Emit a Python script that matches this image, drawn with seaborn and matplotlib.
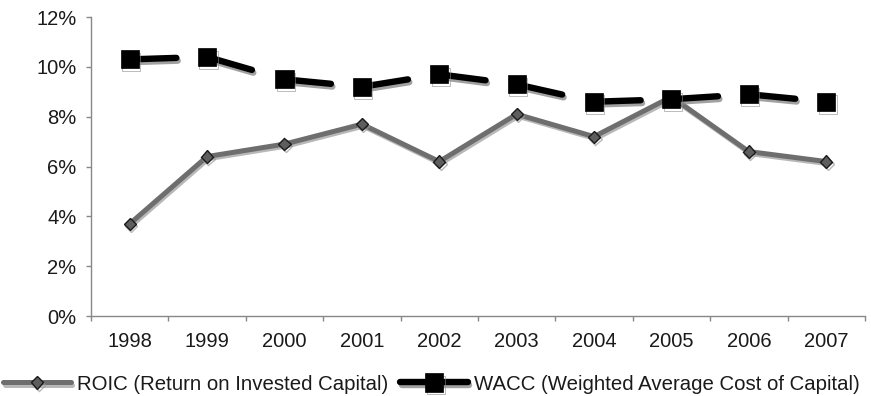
import matplotlib
matplotlib.use("Agg")
import matplotlib.pyplot as plt
import matplotlib.patheffects as pe
from matplotlib.lines import Line2D
from matplotlib.ticker import FuncFormatter, FixedLocator
import seaborn as sns
import pandas as pd

years = [1998, 1999, 2000, 2001, 2002, 2003, 2004, 2005, 2006, 2007]
roic = [3.7, 6.4, 6.9, 7.7, 6.2, 8.1, 7.2, 8.8, 6.6, 6.2]
wacc = [10.3, 10.4, 9.5, 9.2, 9.7, 9.3, 8.6, 8.7, 8.9, 8.6]
roic_label = "ROIC (Return on Invested Capital)"
wacc_label = "WACC (Weighted Average Cost of Capital)"
y_ticks = [0, 2, 4, 6, 8, 10, 12]

sns.set_theme(style="white")
plt.rcParams["font.family"] = ["Liberation Sans", "DejaVu Sans"]
plt.rcParams["text.color"] = "#1a1a1a"

df = pd.DataFrame({"year": years, "roic": roic, "wacc": wacc})

fig = plt.figure(figsize=(8.71, 3.96), dpi=100)
ax = fig.add_axes([0.1045, 0.202, 0.8885, 0.755])

shadow_roic = [pe.SimpleLineShadow(offset=(1, -1.5), shadow_color="#9a9a9a", alpha=0.7), pe.Normal()]
shadow_wacc = [pe.SimpleLineShadow(offset=(1, -2), shadow_color="#8a8a8a", alpha=0.8), pe.Normal()]

roic_style = dict(color="#6e6e6e", lw=3.6, marker="D", markersize=6.2,
                  markerfacecolor="#5e5e5e", markeredgecolor="#1a1a1a",
                  markeredgewidth=1.0)
wacc_line_style = dict(color="black", lw=4.6, dashes=(7.3, 5.1), dash_capstyle="round")
wacc_marker_style = dict(marker="s", markersize=13, markerfacecolor="black",
                         markeredgecolor="black", markeredgewidth=0.5)

# ROIC: solid grey line with diamond markers
sns.lineplot(data=df, x="year", y="roic", ax=ax, zorder=3,
             path_effects=shadow_roic, **roic_style)

# WACC: each year-to-year segment starts its own long dash at the marker
for i in range(len(df) - 1):
    sns.lineplot(data=df.iloc[i:i + 2], x="year", y="wacc", ax=ax, zorder=4,
                 path_effects=shadow_wacc, **wacc_line_style)
sns.lineplot(data=df, x="year", y="wacc", ax=ax, zorder=5, linestyle="none",
             path_effects=shadow_wacc, color="black", **wacc_marker_style)

if ax.get_legend() is not None:
    ax.get_legend().remove()

ax.set_xlim(years[0] - 0.5, years[-1] + 0.5)
ax.set_ylim(0, 12)
ax.set_xlabel("")
ax.set_ylabel("")

ax.xaxis.set_major_locator(FixedLocator(years))
ax.set_xticklabels([str(y) for y in years])
ax.xaxis.set_minor_locator(FixedLocator([y + 0.5 for y in [years[0] - 1] + years]))
ax.tick_params(axis="x", which="major", length=0, pad=11.5, labelsize=14.5, labelcolor="#1a1a1a")
ax.tick_params(axis="x", which="minor", length=3.6, width=1, color="#888888", bottom=True)

ax.set_yticks(y_ticks)
ax.yaxis.set_major_formatter(FuncFormatter(lambda v, _: f"{v:.0f}%"))
ax.tick_params(axis="y", which="major", length=3.6, width=1, color="#888888", left=True,
               pad=7, labelsize=14.5, labelcolor="#1a1a1a")

for side in ("top", "right"):
    ax.spines[side].set_visible(False)
for side in ("left", "bottom"):
    ax.spines[side].set_color("#888888")
    ax.spines[side].set_linewidth(1)

legend_handles = [
    Line2D([], [], path_effects=shadow_roic, **roic_style),
    Line2D([], [], color="black", lw=4.6, solid_capstyle="round",
           path_effects=shadow_wacc, **wacc_marker_style),
]
fig.legend(legend_handles, [roic_label, wacc_label], loc="center left",
           bbox_to_anchor=(0.004, 0.03), ncol=2, frameon=False, fontsize=14.7,
           handlelength=3.3, handletextpad=0.3, columnspacing=0.6,
           borderpad=0, borderaxespad=0)

fig.savefig("out.png", dpi=100, facecolor="white")
